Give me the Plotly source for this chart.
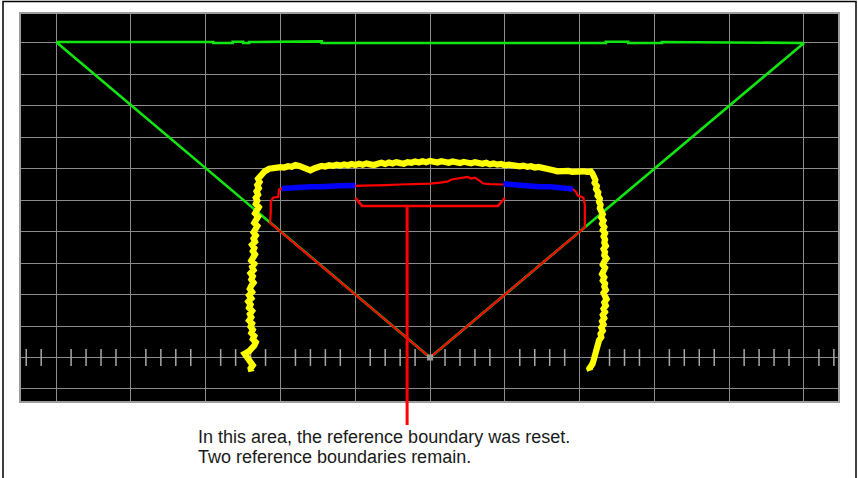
import numpy as np
import plotly.graph_objects as go

# ---------------- data (grid-cell units, origin = sensor position) ----------------
x_range = [-5.47, 5.455]
y_range = [-1.383, 10.92]

# green: detection-field triangle (top edge with small steps)
green_x = [-5.0, -2.9, -2.9, -2.64, -2.64, -2.5, -2.5, -2.42, -2.42, -1.6, -1.6, -1.45, -1.45,
           2.35, 2.35, 2.65, 2.65, 3.1, 3.1, 5.0, 0.0, -5.0]
green_y = [10.03, 10.03, 10.0, 10.0, 10.04, 10.04, 10.0, 10.0, 10.03, 10.03, 10.05, 10.05, 10.0,
           10.0, 10.04, 10.04, 10.0, 10.0, 10.03, 10.0, 0.0, 10.03]

# yellow: measured contour (noisy) - left leg (bottom -> top)
yl_x = [-2.39, -2.40, -2.37, -2.41, -2.43, -2.46, -2.48, -2.42, -2.38, -2.35, -2.33, -2.37,
        -2.35, -2.39, -2.37, -2.40, -2.38, -2.42, -2.39, -2.41, -2.38, -2.42, -2.40, -2.43,
        -2.39, -2.42, -2.38, -2.41, -2.39, -2.36, -2.39, -2.37, -2.40, -2.36, -2.38, -2.35,
        -2.39, -2.36, -2.34, -2.37, -2.35, -2.38, -2.34, -2.36, -2.33, -2.36, -2.34, -2.31,
        -2.35, -2.33, -2.30, -2.34, -2.32, -2.29, -2.33, -2.31, -2.33, -2.30, -2.32, -2.29,
        -2.31, -2.28, -2.30, -2.26, -2.24, -2.21]
yl_y = [-0.45, -0.35, -0.25, -0.15, -0.05, 0.05, 0.12, 0.20, 0.28, 0.38, 0.48, 0.58, 0.68,
        0.78, 0.88, 0.98, 1.08, 1.18, 1.28, 1.38, 1.48, 1.58, 1.68, 1.78, 1.88, 1.98, 2.08,
        2.18, 2.28, 2.38, 2.48, 2.58, 2.68, 2.78, 2.88, 2.98, 3.08, 3.18, 3.28, 3.38, 3.48,
        3.58, 3.68, 3.78, 3.88, 3.98, 4.08, 4.18, 4.28, 4.38, 4.48, 4.58, 4.68, 4.78, 4.88,
        4.98, 5.08, 5.18, 5.28, 5.38, 5.48, 5.58, 5.68, 5.78, 5.86, 5.92]
# top edge (left -> right)
yt_x = [-2.15, -2.10, -2.05, -2.00, -1.95, -1.90, -1.85, -1.80, -1.75, -1.70, -1.65, -1.60,
        -1.55, -1.50, -1.45, -1.40, -1.35, -1.30, -1.25, -1.20, -1.15, -1.10, -1.05, -1.00,
        -0.95, -0.90, -0.85, -0.80, -0.75, -0.70, -0.65, -0.60, -0.55, -0.50, -0.45, -0.40,
        -0.35, -0.30, -0.25, -0.20, -0.15, -0.10, -0.05, 0.00, 0.05, 0.10, 0.15, 0.20, 0.25,
        0.30, 0.35, 0.40, 0.45, 0.50, 0.55, 0.60, 0.65, 0.70, 0.75, 0.80, 0.85, 0.90, 0.95,
        1.00, 1.05, 1.10, 1.15, 1.20, 1.25, 1.30, 1.35, 1.40, 1.45, 1.50, 1.55, 1.60, 1.65,
        1.70, 1.75, 1.80, 1.85, 1.90, 1.95, 2.00, 2.05, 2.10, 2.15]
yt_y = [6.00, 6.03, 6.01, 6.05, 6.04, 6.08, 6.06, 6.12, 6.09, 6.04, 6.00, 5.95, 6.01, 6.06,
        6.09, 6.07, 6.11, 6.09, 6.13, 6.10, 6.14, 6.11, 6.15, 6.12, 6.16, 6.13, 6.17, 6.14,
        6.12, 6.16, 6.19, 6.15, 6.20, 6.17, 6.21, 6.18, 6.16, 6.21, 6.19, 6.23, 6.20, 6.24,
        6.21, 6.25, 6.22, 6.20, 6.24, 6.21, 6.19, 6.23, 6.20, 6.18, 6.22, 6.19, 6.17, 6.21,
        6.18, 6.16, 6.19, 6.14, 6.17, 6.13, 6.15, 6.11, 6.13, 6.10, 6.12, 6.08, 6.10, 6.06,
        6.08, 6.04, 6.06, 6.02, 6.00, 5.98, 5.95, 5.92, 5.94, 5.91, 5.93, 5.90, 5.92, 5.90,
        5.92, 5.90, 5.91]
# right leg (top -> bottom)
yr_x = [2.17, 2.19, 2.21, 2.20, 2.23, 2.22, 2.25, 2.24, 2.27, 2.26, 2.28, 2.27, 2.29, 2.31,
        2.29, 2.32, 2.30, 2.33, 2.31, 2.34, 2.32, 2.34, 2.33, 2.35, 2.32, 2.34, 2.33, 2.36,
        2.33, 2.31, 2.34, 2.32, 2.30, 2.33, 2.31, 2.34, 2.33, 2.35, 2.32, 2.34, 2.36, 2.33,
        2.35, 2.32, 2.34, 2.31, 2.33, 2.30, 2.32, 2.29, 2.31, 2.28, 2.29, 2.26, 2.25, 2.23,
        2.24, 2.21, 2.22, 2.19, 2.18, 2.16, 2.13, 2.14]
yr_y = [5.85, 5.75, 5.65, 5.55, 5.45, 5.35, 5.25, 5.15, 5.05, 4.95, 4.85, 4.75, 4.65, 4.55,
        4.45, 4.35, 4.25, 4.15, 4.05, 3.95, 3.85, 3.75, 3.65, 3.55, 3.45, 3.35, 3.25, 3.15,
        3.05, 2.95, 2.85, 2.75, 2.65, 2.55, 2.45, 2.35, 2.25, 2.15, 2.05, 1.95, 1.85, 1.75,
        1.65, 1.55, 1.45, 1.35, 1.25, 1.15, 1.05, 0.95, 0.85, 0.75, 0.65, 0.55, 0.45, 0.35,
        0.25, 0.15, 0.05, -0.05, -0.15, -0.25, -0.35, -0.42]

# blue: two remaining reference-boundary pieces
blue_left_x = [-1.98, -1.87, -1.74, -1.60, -1.47, -1.34, -1.20, -1.00]
blue_left_y = [5.37, 5.40, 5.40, 5.43, 5.43, 5.46, 5.46, 5.47]
blue_right_x = [0.98, 1.07, 1.20, 1.34, 1.47, 1.60, 1.74, 1.91]
blue_right_y = [5.52, 5.50, 5.46, 5.46, 5.43, 5.43, 5.40, 5.36]

# red: current reference boundary
red_x = [0.0, -2.14, -2.13, -2.13, -2.10, -2.03, -2.02, -1.98, -1.47, -1.00, -0.84, -0.60,
         -0.40, -0.20, 0.0, 0.13, 0.23, 0.29, 0.36, 0.43, 0.50, 0.55, 0.60, 0.66, 0.71, 0.80,
         0.90, 0.98, 1.91, 1.95, 1.98, 2.05, 2.07, 2.07, 2.07, 0.0]
red_y = [0.0, 4.28, 4.63, 4.95, 5.08, 5.11, 5.34, 5.37, 5.43, 5.45, 5.46, 5.48, 5.50, 5.51,
         5.53, 5.56, 5.59, 5.66, 5.69, 5.72, 5.74, 5.69, 5.72, 5.62, 5.53, 5.51, 5.50, 5.50,
         5.35, 5.27, 5.14, 5.08, 4.86, 4.54, 4.14, 0.0]

# callout bracket marking the reset area
bracket_x = [-1.00, -0.91, 0.91, 1.00]
bracket_y = [5.08, 4.82, 4.82, 5.08]
callout_x = -0.307
callout_bottom_px = 425  # end of callout line below plot

note_lines = ["In this area, the reference boundary was reset.",
              "Two reference boundaries remain."]

# ---------------- figure ----------------
W, H = 858, 478
ML, MR, MT, MB = 21, 20, 14, 77
plot_h = H - MT - MB

def ypaper(v):
    return (v - y_range[0]) / (y_range[1] - y_range[0])

def px_to_paper_y(py):
    return (H - MB - py) / plot_h

def px_to_paper_x(px):
    return (px - ML) / (W - ML - MR)

fig = go.Figure()

# minor ticks on the sensor axis
tick_x = [round(v, 1) for v in np.arange(-5.4, 5.41, 0.2) if abs(v - round(v)) > 1e-6]
fig.add_trace(go.Scatter(x=tick_x, y=[0] * len(tick_x), mode="markers",
                         marker=dict(symbol="line-ns", size=12,
                                     line=dict(color="#a8a8a8", width=1.5)),
                         hoverinfo="skip", showlegend=False))

fig.add_trace(go.Scatter(x=green_x, y=green_y, mode="lines",
                         line=dict(color="#11e611", width=2.6), showlegend=False))
fig.add_trace(go.Scatter(x=red_x, y=red_y, mode="lines",
                         line=dict(color="#ff0000", width=2.2), showlegend=False))
fig.add_trace(go.Scatter(x=yl_x + yt_x + yr_x, y=yl_y + yt_y + yr_y, mode="lines",
                         line=dict(color="#ffff00", width=6.2), showlegend=False))
fig.add_trace(go.Scatter(x=blue_left_x, y=blue_left_y, mode="lines",
                         line=dict(color="#0000ff", width=5.5), showlegend=False))
fig.add_trace(go.Scatter(x=blue_right_x, y=blue_right_y, mode="lines",
                         line=dict(color="#0000ff", width=5.5), showlegend=False))
fig.add_trace(go.Scatter(x=bracket_x, y=bracket_y, mode="lines",
                         line=dict(color="#ff0000", width=2.5), showlegend=False))
fig.add_trace(go.Scatter(x=[0], y=[0], mode="markers",
                         marker=dict(symbol="square", size=6, color="#9a9a9a"),
                         showlegend=False))

# callout line (extends below the plot area)
fig.add_shape(type="line", xref="x", yref="paper",
              x0=callout_x, x1=callout_x,
              y0=ypaper(bracket_y[1]), y1=px_to_paper_y(callout_bottom_px),
              line=dict(color="#ff0000", width=3))

# outer frame of the illustration
fig.add_shape(type="rect", xref="paper", yref="paper",
              x0=px_to_paper_x(3), x1=px_to_paper_x(856),
              y0=px_to_paper_y(482), y1=px_to_paper_y(1.5),
              line=dict(color="#000000", width=1.5), layer="below")

for txt, cy in zip(note_lines, [436.5, 457]):
    fig.add_annotation(text=txt, xref="paper", yref="paper",
                       x=px_to_paper_x(196), y=px_to_paper_y(cy),
                       xanchor="left", yanchor="middle", showarrow=False,
                       font=dict(family="Liberation Sans, Arial, sans-serif", size=18,
                                 color="#1a1a1a"))

axis_common = dict(showgrid=True, gridcolor="#8c8c8c", gridwidth=1.3, zeroline=False,
                   showticklabels=False, ticks="", showline=True, linecolor="#9c9c9c",
                   linewidth=2, mirror=True, fixedrange=True)

fig.update_layout(
    width=W, height=H,
    margin=dict(l=ML, r=MR, t=MT, b=MB),
    paper_bgcolor="#ffffff", plot_bgcolor="#000000",
    xaxis=dict(range=x_range, dtick=1, tick0=0, **axis_common),
    yaxis=dict(range=y_range, dtick=1, tick0=0, **axis_common),
    showlegend=False,
)

fig.write_html("out.html", config={"displayModeBar": False},
               post_script="document.body.style.margin='0';document.body.style.overflow='hidden';")
